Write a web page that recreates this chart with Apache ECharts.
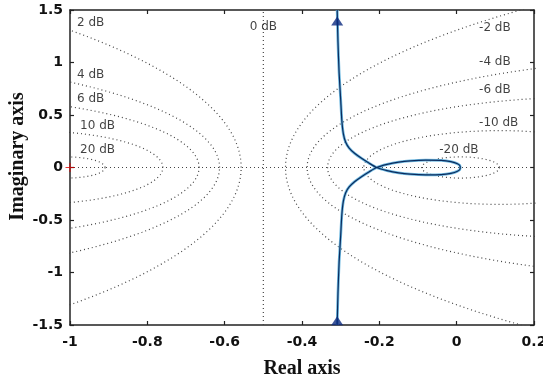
<!DOCTYPE html>
<html>
<head>
<meta charset="utf-8">
<script src="https://cdn.jsdelivr.net/npm/echarts@6/dist/echarts.min.js"></script>
<style>
  html, body { margin: 0; padding: 0; background: #fff; }
  #chart { width: 543px; height: 377px; }
</style>
</head>
<body>
<div id="chart"></div>
<script>
// constant closed-loop magnitude contours (M-circles), in dB
var mLevels = [20, 10, 6, 4, 2, -2, -4, -6, -10, -20];

// Nyquist curve: upper branch, loop, lower branch
var nyqX = [-0.309, -0.307, -0.304, -0.300, -0.297, -0.293, -0.287, -0.278, -0.264, -0.246, -0.226, -0.207,
            -0.18, -0.15, -0.12, -0.08, -0.04, -0.015, 0.002, 0.009,
            0.009, 0.002, -0.015, -0.04, -0.08, -0.12, -0.15, -0.18,
            -0.207, -0.226, -0.246, -0.264, -0.278, -0.287, -0.293, -0.297, -0.300, -0.304, -0.307, -0.309];
var nyqY = [1.5, 1.2, 0.9, 0.65, 0.45, 0.32, 0.24, 0.185, 0.135, 0.087, 0.04, 0,
            -0.03, -0.052, -0.064, -0.07, -0.068, -0.056, -0.036, -0.012,
            0.012, 0.036, 0.056, 0.068, 0.07, 0.064, 0.052, 0.03,
            0, -0.04, -0.087, -0.135, -0.185, -0.24, -0.32, -0.45, -0.65, -0.9, -1.2, -1.5];

// contour labels
var labelText = ['2 dB', '4 dB', '6 dB', '10 dB', '20 dB', '0 dB', '-2 dB', '-4 dB', '-6 dB', '-10 dB', '-20 dB'];
var labelX = [-0.982, -0.982, -0.982, -0.974, -0.974, -0.535, 0.058, 0.058, 0.058, 0.058, -0.045];
var labelY = [1.376, 0.881, 0.652, 0.395, 0.167, 1.338, 1.329, 1.005, 0.738, 0.424, 0.167];

// arrows on the curve and the -1 point
var arrowPts = [[-0.309, 1.395], [-0.309, -1.46]];
var critPt = [[-1, 0]];

var dotted = { color: '#444', width: 1.2, type: [1, 3] };

function mCircle(db) {
  var M = Math.pow(10, db / 20);
  var c = -M * M / (M * M - 1);
  var r = Math.abs(M / (M * M - 1));
  var pts = [];
  for (var i = 0; i <= 360; i++) {
    var t = i * Math.PI / 180;
    pts.push([c + r * Math.cos(t), r * Math.sin(t)]);
  }
  return pts;
}

var series = [];
mLevels.forEach(function (db) {
  series.push({
    type: 'line', data: mCircle(db), showSymbol: false, silent: true,
    lineStyle: dotted, z: 1
  });
});
// 0 dB line and real axis
series.push({ type: 'line', data: [[-0.5, -1.5], [-0.5, 1.5]], showSymbol: false, lineStyle: dotted, z: 1 });
series.push({ type: 'line', data: [[-1, 0], [0.2, 0]], showSymbol: false, lineStyle: dotted, z: 1 });

var nyq = nyqX.map(function (x, i) { return [x, nyqY[i]]; });
series.push({ type: 'line', data: nyq, showSymbol: false, smooth: 0.2,
  lineStyle: { color: '#6db8e0', width: 2.8 }, z: 3 });
series.push({ type: 'line', data: nyq, showSymbol: false, smooth: 0.2,
  lineStyle: { color: '#0b2c5e', width: 1.2 }, z: 4 });

series.push({ type: 'scatter', data: arrowPts, symbol: 'triangle', symbolSize: [12, 9],
  itemStyle: { color: '#0d2a80' }, z: 5 });
series.push({ type: 'scatter', data: critPt, symbol: 'path://M0,3.5h8v1h-8zM3.5,0h1v8h-1z',
  symbolSize: 9, itemStyle: { color: '#e00000' }, z: 6 });

series.push({
  type: 'scatter', symbolSize: 0, z: 6,
  data: labelX.map(function (x, i) { return { value: [x, labelY[i]], name: labelText[i] }; }),
  label: {
    show: true, position: 'right', distance: 0, formatter: '{b}',
    color: '#111', fontSize: 12, fontFamily: 'DejaVu Sans'
  }
});

var tickLbl = { fontWeight: 'bold', fontSize: 14, color: '#111', fontFamily: 'DejaVu Sans' };
var nameStyle = { fontFamily: 'Liberation Serif', fontWeight: 'bold', fontSize: 20, color: '#111' };
var axLine = { show: true, onZero: false, lineStyle: { color: '#222', width: 1.5 } };
var axTick = { show: true, inside: true, length: 4, lineStyle: { color: '#222', width: 1.2 } };

var option = {
  animation: false,
  grid: { left: 70, right: 9, top: 10, bottom: 52, containLabel: false, outerBoundsMode: 'none' },
  xAxis: [{
    type: 'value', min: -1, max: 0.2, interval: 0.2, position: 'bottom',
    name: 'Real axis', nameLocation: 'middle', nameGap: 34, nameMoveOverlap: false,
    nameTextStyle: nameStyle,
    axisLine: axLine, axisTick: axTick, splitLine: { show: false },
    axisLabel: Object.assign({ margin: 10 }, tickLbl)
  }, {
    type: 'value', min: -1, max: 0.2, interval: 0.2, position: 'top',
    axisLine: axLine, axisTick: axTick, splitLine: { show: false }, axisLabel: { show: false }
  }],
  yAxis: [{
    type: 'value', min: -1.5, max: 1.5, interval: 0.5, position: 'left',
    name: 'Imaginary axis', nameLocation: 'middle', nameGap: 42, nameMoveOverlap: false,
    nameTextStyle: Object.assign({ padding: [0, 0, 0, 22] }, nameStyle),
    axisLine: axLine, axisTick: axTick, splitLine: { show: false },
    axisLabel: Object.assign({ margin: 7 }, tickLbl)
  }, {
    type: 'value', min: -1.5, max: 1.5, interval: 0.5, position: 'right',
    axisLine: axLine, axisTick: axTick, splitLine: { show: false }, axisLabel: { show: false }
  }],
  series: series
};

var myChart = echarts.init(document.getElementById('chart'));
myChart.setOption(option);
</script>
</body>
</html>
